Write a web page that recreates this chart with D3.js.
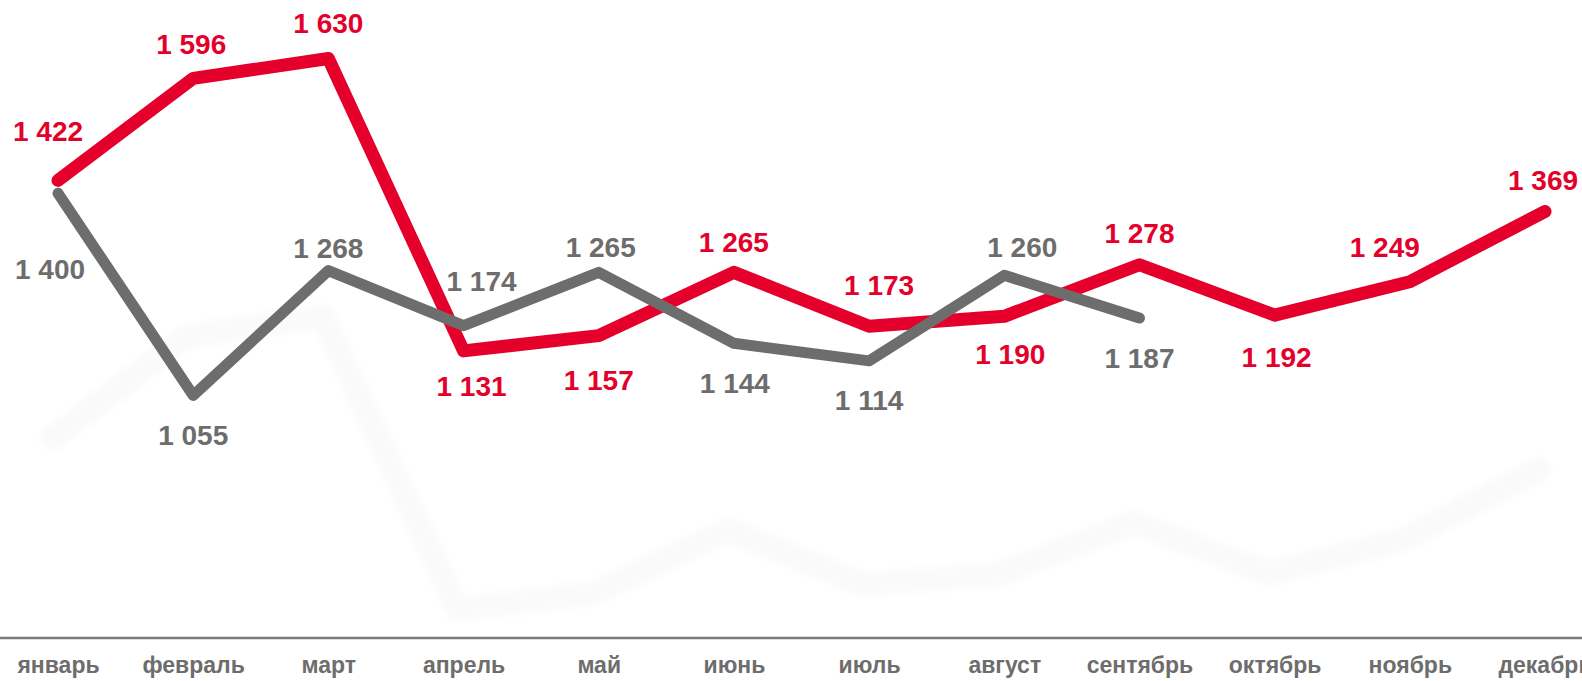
<!DOCTYPE html>
<html>
<head>
<meta charset="utf-8">
<script src="https://cdn.jsdelivr.net/npm/d3@7"></script>
<style>
  body { margin: 0; background: #fff; }
  svg { display: block; font-family: "Liberation Sans", Arial, sans-serif; font-weight: bold; }
</style>
</head>
<body>
<svg width="1582" height="681"></svg>
<script>
// Месяцы
const months = ["январь", "февраль", "март", "апрель", "май", "июнь", "июль", "август", "сентябрь", "октябрь", "ноябрь", "декабрь"];

// Значения: текущий год (красный) и прошлый год (серый)
const redValues = [1422, 1596, 1630, 1131, 1157, 1265, 1173, 1190, 1278, 1192, 1249, 1369];
const grayValues = [1400, 1055, 1268, 1174, 1265, 1144, 1114, 1260, 1187];

// Смещения подписей [dx, dy] относительно точки
const redLabelOffset = [[-10, -49], [-2, -35], [0, -36], [8, 35], [0, 44], [0, -30], [10, -41], [6, 38], [0, -32], [2, 42], [-25, -35], [-2, -32]];
const grayLabelOffset = [[-8, 76], [0, 40], [0, -23], [18, -45], [2, -25], [1, 40], [0, 39], [18, -28], [0, 40]];

const svg = d3.select("svg");
const width = 1582;

const x = d3.scalePoint()
    .domain(months)
    .range([58, 1545]);

const y = d3.scaleLinear()
    .domain([641, 1630])
    .range([638, 58.5]);

const line = d3.line()
    .x((d, i) => x(months[i]))
    .y(d => y(d));

// Размытая тень
const defs = svg.append("defs");
defs.append("filter")
    .attr("id", "blur")
    .attr("x", "-10%").attr("y", "-50%")
    .attr("width", "120%").attr("height", "200%")
    .append("feGaussianBlur")
    .attr("stdDeviation", 3);

svg.append("path")
    .datum(redValues)
    .attr("d", line)
    .attr("transform", "translate(-6,258)")
    .attr("fill", "none")
    .attr("stroke", "#fafafa")
    .attr("stroke-width", 24)
    .attr("stroke-linecap", "round")
    .attr("stroke-linejoin", "round")
    .attr("filter", "url(#blur)");

// Ось X
svg.append("line")
    .attr("x1", 0).attr("x2", width)
    .attr("y1", 638).attr("y2", 638)
    .attr("stroke", "#7a7a7a")
    .attr("stroke-width", 2.5);

const xAxis = svg.append("g")
    .attr("transform", "translate(0,638)")
    .call(d3.axisBottom(x).tickSize(0).tickPadding(19));
xAxis.select(".domain").remove();
xAxis.selectAll("text")
    .attr("fill", "#6d6d6d")
    .style("font-size", "23px")
    .style("font-family", "'Liberation Sans', Arial, sans-serif")
    .style("font-weight", "bold");

// Красная линия
svg.append("path")
    .datum(redValues)
    .attr("d", line)
    .attr("fill", "none")
    .attr("stroke", "#e4002b")
    .attr("stroke-width", 13)
    .attr("stroke-linecap", "round")
    .attr("stroke-linejoin", "round");

// Серая линия
svg.append("path")
    .datum(grayValues)
    .attr("d", line)
    .attr("fill", "none")
    .attr("stroke", "#6d6d6d")
    .attr("stroke-width", 11)
    .attr("stroke-linecap", "round")
    .attr("stroke-linejoin", "round");

const fmt = v => d3.format(",")(v).replace(",", " ");

svg.selectAll(".red-label")
    .data(redValues)
    .enter().append("text")
    .attr("class", "red-label")
    .attr("x", (d, i) => x(months[i]) + redLabelOffset[i][0])
    .attr("y", (d, i) => y(d) + redLabelOffset[i][1])
    .attr("dy", "0.36em")
    .attr("text-anchor", "middle")
    .attr("fill", "#e4002b")
    .style("font-size", "28px")
    .text(fmt);

svg.selectAll(".gray-label")
    .data(grayValues)
    .enter().append("text")
    .attr("class", "gray-label")
    .attr("x", (d, i) => x(months[i]) + grayLabelOffset[i][0])
    .attr("y", (d, i) => y(d) + grayLabelOffset[i][1])
    .attr("dy", "0.36em")
    .attr("text-anchor", "middle")
    .attr("fill", "#6d6d6d")
    .style("font-size", "28px")
    .text(fmt);
</script>
</body>
</html>
